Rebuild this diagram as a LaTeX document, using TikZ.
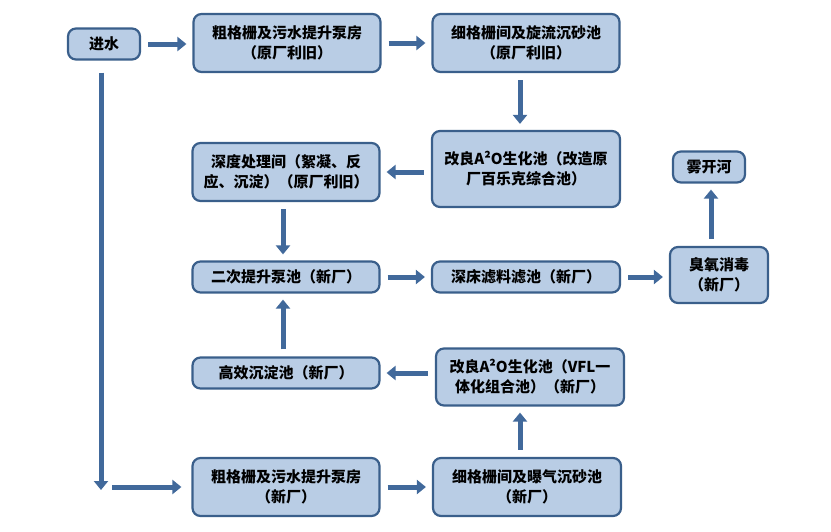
\documentclass[tikz,border=0pt]{standalone}
\usepackage{fontspec}
\setmainfont{Noto Sans CJK SC}
\usetikzlibrary{arrows.meta}
\definecolor{boxfill}{HTML}{B9CDE5}
\definecolor{boxline}{HTML}{3A5F8B}
\definecolor{flowc}{HTML}{41699B}
\tikzset{
	box/.style={draw=boxline, fill=boxfill, line width=2.2pt, rounded corners=8pt, align=center, inner sep=0pt, font=\fontsize{15}{20}\selectfont\bfseries},
	flow/.style={draw=flowc, line width=5pt, shorten <=7pt, shorten >=6pt, -{Triangle[length=9pt,width=14pt]}}
}
\begin{document}
\begin{tikzpicture}[x=1pt,y=-1pt]
	\useasboundingbox (0,0) rectangle (831,531);
	\node[box, minimum width=72pt, minimum height=31pt] (inflow) at (104,44) {进水};
	\node[box, minimum width=187pt, minimum height=58pt] (coarseOld) at (287,43) {粗格栅及污水提升泵房\\（原厂利旧）};
	\node[box, minimum width=187pt, minimum height=58pt] (fineOld) at (526,43) {细格栅间及旋流沉砂池\\（原厂利旧）};
	\node[box, minimum width=188pt, minimum height=76pt] (bioOld) at (526,169) {改良A²O生化池（改造原\\厂百乐克综合池）};
	\node[box, minimum width=187pt, minimum height=58pt] (deep) at (286,172) {深度处理间（絮凝、反\\应、沉淀）（原厂利旧）};
	\node[box, minimum width=72pt, minimum height=31pt] (river) at (709,167) {雾开河};
	\node[box, minimum width=187pt, minimum height=31pt] (lift) at (286,277) {二次提升泵池（新厂）};
	\node[box, minimum width=188pt, minimum height=31pt] (filter) at (526,277) {深床滤料滤池（新厂）};
	\node[box, minimum width=98pt, minimum height=56pt] (ozone) at (719,275) {臭氧消毒\\（新厂）};
	\node[box, minimum width=187pt, minimum height=31pt] (settle) at (286,373) {高效沉淀池（新厂）};
	\node[box, minimum width=188pt, minimum height=57pt] (bioNew) at (530,377) {改良A²O生化池（VFL一\\体化组合池）（新厂）};
	\node[box, minimum width=187pt, minimum height=58pt] (coarseNew) at (286,487) {粗格栅及污水提升泵房\\（新厂）};
	\node[box, minimum width=188pt, minimum height=58pt] (fineNew) at (527,487) {细格栅间及曝气沉砂池\\（新厂）};
	\coordinate (bend) at (101,490);
	\coordinate (feed) at (112,487);
	% old plant line
	\draw[flow] (inflow.east) -- (inflow.east -| coarseOld.west);
	\draw[flow] (coarseOld.east) -- (coarseOld.east -| fineOld.west);
	\draw[flow] ([xshift=-6pt]fineOld.south) -- ([xshift=-6pt]fineOld.south |- bioOld.north);
	\draw[flow] (deep.east -| bioOld.west) -- (deep.east);
	\draw[flow] ([xshift=-3pt]deep.south) -- ([xshift=-3pt]deep.south |- lift.north);
	% shared outlet
	\draw[flow] (lift.east) -- (lift.east -| filter.west);
	\draw[flow] (filter.east) -- (filter.east -| ozone.west);
	\draw[flow] ([xshift=-8pt]ozone.north) -- ([xshift=-8pt]ozone.north |- river.south);
	% new plant line
	\draw[flow, shorten <=12pt, shorten >=0pt] ([xshift=-3pt]inflow.south) -- (bend);
	\draw[flow, shorten <=0pt, shorten >=10pt] (feed) -- (feed -| coarseNew.west);
	\draw[flow] (coarseNew.east) -- (coarseNew.east -| fineNew.west);
	\draw[flow] ([xshift=-7pt]fineNew.north) -- ([xshift=-7pt]fineNew.north |- bioNew.south);
	\draw[flow] (settle.east -| bioNew.west) -- (settle.east);
	\draw[flow] ([xshift=-3pt]settle.north) -- ([xshift=-3pt]settle.north |- lift.south);
\end{tikzpicture}
\end{document}
